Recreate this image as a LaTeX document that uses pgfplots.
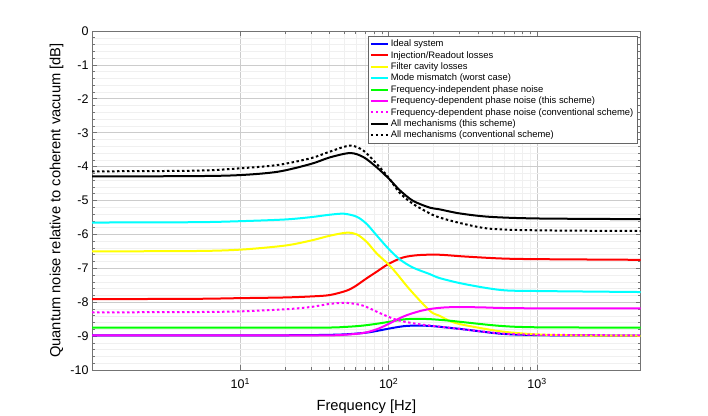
\documentclass[border=0pt]{standalone}
\usepackage{fontspec}
\setmainfont{Liberation Sans}
\usepackage{pgfplots}
\pgfplotsset{compat=1.18}
\definecolor{bl}{rgb}{0,0,1}
\definecolor{rd}{rgb}{1,0,0}
\definecolor{yl}{rgb}{1,1,0}
\definecolor{cy}{rgb}{0,1,1}
\definecolor{gr}{rgb}{0,1,0}
\definecolor{mg}{rgb}{1,0,1}
\begin{document}
\begin{tikzpicture}[x=1pt,y=1pt]
\path[use as bounding box] (-92,-45) rectangle (616,370);
\begin{axis}[
 at={(0,0)}, anchor=south west,
 scale only axis, width=548.7pt, height=339pt,
 xmode=log, xmin=1, xmax=5000, ymin=-10, ymax=0,
 xtick={10,100,1000},
 xticklabels={10\textsuperscript{1},10\textsuperscript{2},10\textsuperscript{3}},
 ytick={-10,-9,...,0},
 minor y tick num=4,
 grid=both,
 major grid style={draw=black!20, line width=0.6pt},
 minor grid style={draw=black!6, line width=0.5pt},
 tick align=inside,
 tick style={black!55, line width=0.6pt},
 axis line style={black!55, line width=0.6pt},
 major tick length=5pt, minor tick length=3pt,
 ticklabel style={font=\fontsize{12.5}{14}\selectfont},
 xticklabel style={yshift=-4.5pt},
 /pgf/number format/assume math mode=true,
 xlabel={Frequency [Hz]},
 ylabel={Quantum noise relative to coherent vacuum [dB]},
 label style={font=\fontsize{14.7}{16}\selectfont},
 xlabel style={yshift=-4pt},
 legend style={at={(rel axis cs:0.9932,0.985)}, anchor=north east,
   font=\fontsize{9.4}{10}\selectfont, draw=black!60, fill=white,
   inner xsep=1.5pt, inner ysep=1.5pt, row sep=-0.9pt, cells={anchor=west}},
 legend image code/.code={\draw[#1] (0pt,0pt) -- (17pt,0pt);},
 every axis plot/.append style={line width=2pt, smooth},
]
\addplot[color=bl] coordinates {(1,-8.98) (10,-8.98) (30,-8.97) (50,-8.95) (70,-8.9) (85,-8.84) (100,-8.78) (125,-8.71) (150,-8.69) (190,-8.7) (250,-8.75) (320,-8.8) (570,-8.93) (1000,-8.97) (2000,-8.98) (5000,-8.99)};
\addlegendentry{Ideal system}
\addplot[color=rd] coordinates {(1,-7.91) (5,-7.9) (10,-7.88) (20,-7.86) (30,-7.83) (40,-7.79) (52,-7.66) (60,-7.52) (67.6,-7.36) (83,-7.1) (100,-6.87) (125,-6.68) (160,-6.61) (220,-6.6) (320,-6.65) (570,-6.71) (1000,-6.73) (5000,-6.75)};
\addlegendentry{Injection/Readout losses}
\addplot[color=yl] coordinates {(1,-6.5) (5,-6.49) (10,-6.45) (20,-6.33) (30,-6.18) (40,-6.04) (52,-5.95) (61,-6.0) (71,-6.22) (83,-6.56) (100,-6.89) (113,-7.15) (139,-7.63) (190,-8.26) (220,-8.4) (260,-8.56) (320,-8.67) (570,-8.86) (1000,-8.95) (2000,-8.98) (5000,-8.99)};
\addlegendentry{Filter cavity losses}
\addplot[color=cy] coordinates {(1,-5.65) (5,-5.64) (10,-5.61) (20,-5.56) (30,-5.49) (40,-5.42) (50,-5.39) (61,-5.48) (71,-5.69) (83,-6.03) (100,-6.43) (119,-6.74) (146,-6.98) (189,-7.17) (221,-7.29) (320,-7.46) (570,-7.64) (1000,-7.67) (5000,-7.7)};
\addlegendentry{Mode mismatch (worst case)}
\addplot[color=gr] coordinates {(1,-8.75) (30,-8.75) (50,-8.73) (67,-8.69) (85,-8.63) (100,-8.58) (125,-8.51) (150,-8.49) (190,-8.5) (250,-8.54) (320,-8.59) (570,-8.7) (1000,-8.74) (5000,-8.75)};
\addlegendentry{Frequency-independent phase noise}
\addplot[color=mg] coordinates {(1,-8.98) (30,-8.98) (50,-8.96) (67,-8.91) (83,-8.8) (100,-8.64) (115,-8.5) (133,-8.38) (160,-8.27) (190,-8.2) (250,-8.15) (400,-8.15) (570,-8.17) (1000,-8.18) (5000,-8.18)};
\addlegendentry{Frequency-dependent phase noise (this scheme)}
\addplot[color=mg, dash pattern=on 2.5pt off 2.5pt] coordinates {(1,-8.3) (5,-8.29) (10,-8.27) (20,-8.21) (30,-8.14) (40,-8.05) (52,-8.02) (67,-8.1) (87,-8.32) (113,-8.52) (150,-8.63) (190,-8.69) (320,-8.8) (570,-8.92) (1000,-8.96) (5000,-8.98)};
\addlegendentry{Frequency-dependent phase noise (conventional scheme)}
\addplot[color=black] coordinates {(1,-4.29) (5,-4.28) (10,-4.25) (18,-4.15) (30,-3.92) (40,-3.73) (55,-3.6) (67.6,-3.72) (83,-4.02) (100,-4.35) (119,-4.7) (146,-5.01) (189,-5.21) (220,-5.26) (300,-5.38) (475,-5.48) (1000,-5.53) (5000,-5.55)};
\addlegendentry{All mechanisms (this scheme)}
\addplot[color=black, dash pattern=on 2.5pt off 2.5pt] coordinates {(1,-4.14) (5,-4.12) (10,-4.05) (18,-3.95) (30,-3.75) (40,-3.56) (55,-3.38) (67.6,-3.53) (83,-3.92) (100,-4.33) (119,-4.78) (146,-5.1) (189,-5.38) (220,-5.5) (300,-5.66) (475,-5.83) (1000,-5.88) (5000,-5.9)};
\addlegendentry{All mechanisms (conventional scheme)}
\end{axis}
\end{tikzpicture}
\end{document}
